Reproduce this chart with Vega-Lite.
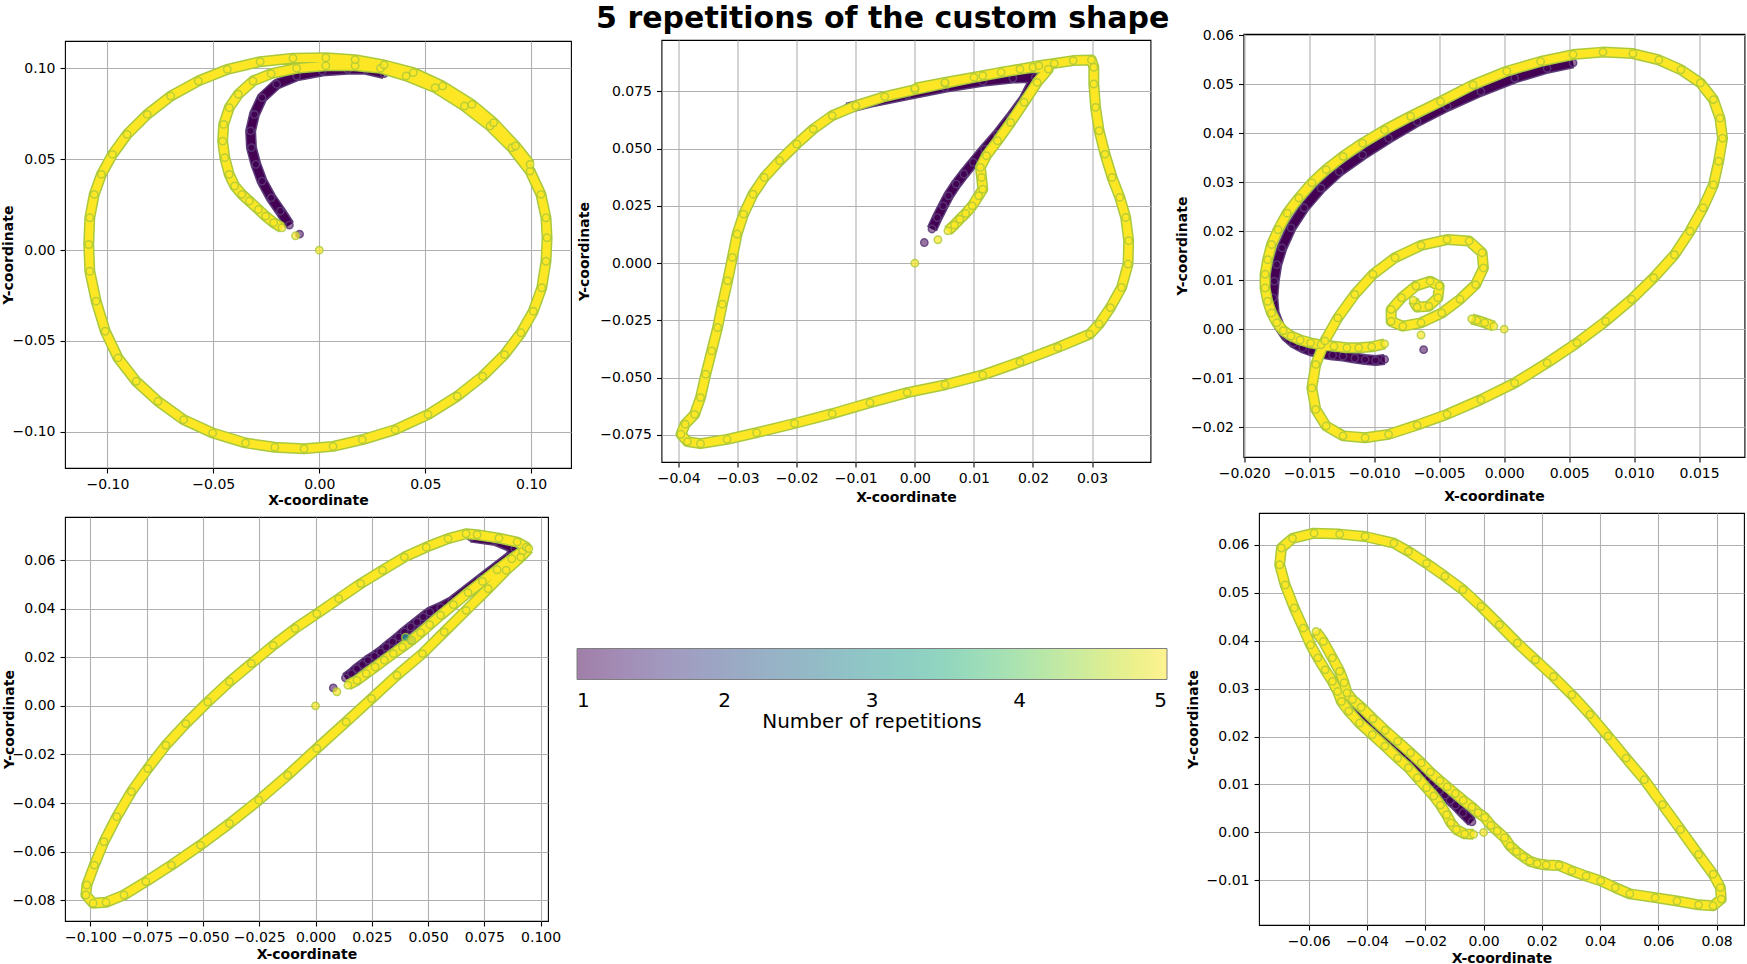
{
  "$schema": "https://vega.github.io/schema/vega-lite/v6.json",
  "background": "white",
  "padding": {"left": 0, "top": 3, "right": 0, "bottom": 0},
  "title": {"text": "5 repetitions of the custom shape", "fontSize": 30, "fontWeight": "bold", "anchor": "middle", "dx": 10, "offset": -6, "color": "black", "font": "DejaVu Sans"},
  "config": {
    "font": "DejaVu Sans",
    "view": {"stroke": "black", "strokeWidth": 1.1},
    "axis": {"grid": true, "gridColor": "#b0b0b0", "gridWidth": 1.1, "domain": false, "ticks": true, "tickColor": "black", "tickSize": 5, "tickWidth": 1.1, "labelFontSize": 14, "labelColor": "black", "titleFontSize": 14, "titleFontWeight": "bold", "titleColor": "black", "labelFlush": false, "labelOverlap": false, "zindex": 1},
    "axisX": {"labelPadding": 4},
    "axisY": {"labelPadding": 5, "titleBaseline": "bottom"},
    "legend": {"orient": "none", "legendX": 512, "legendY": 614.5, "direction": "horizontal", "gradientLength": 590, "gradientThickness": 31, "gradientStrokeColor": "black", "gradientStrokeWidth": 1, "gradientOpacity": 0.5, "gradientLabelOffset": 11, "labelFontSize": 20, "labelColor": "black", "labelOffset": 11, "labelAlign": "center", "labelLimit": 100, "titleOrient": "bottom", "titleFontSize": 20, "titleFontWeight": "normal", "titleColor": "black", "titleAnchor": "middle", "titlePadding": 1, "titleLimit": 500, "padding": 0}
  },
  "datasets": {
    "d1": [
      {"s":"o","r":5,"x":0,"y":0},
      {"s":"a0","r":1,"x":-0.0093,"y":0.0088},
      {"s":"a","r":1,"x":-0.0141,"y":0.0138},{"s":"a","r":1,"x":-0.0184,"y":0.0215},{"s":"a","r":1,"x":-0.0227,"y":0.0288},{"s":"a","r":1,"x":-0.0270,"y":0.0380},{"s":"a","r":1,"x":-0.0299,"y":0.0472},{"s":"a","r":1,"x":-0.0320,"y":0.0564},{"s":"a","r":1,"x":-0.0324,"y":0.0656},{"s":"a","r":1,"x":-0.0306,"y":0.0747},{"s":"a","r":1,"x":-0.0270,"y":0.0839},{"s":"a","r":1,"x":-0.0201,"y":0.0913},{"s":"a","r":1,"x":-0.0107,"y":0.0959},{"s":"a","r":1,"x":0.0014,"y":0.0986},{"s":"a","r":1,"x":0.0134,"y":0.0995},{"s":"a","r":1,"x":0.0220,"y":0.0995},{"s":"a","r":1,"x":0.0306,"y":0.0971},
      {"s":"b0","r":5,"x":-0.0112,"y":0.0079},
      {"s":"b","r":5,"x":-0.0176,"y":0.0123},{"s":"b","r":5,"x":-0.0215,"y":0.0151},{"s":"b","r":5,"x":-0.0253,"y":0.0187},{"s":"b","r":5,"x":-0.0287,"y":0.0224},{"s":"b","r":5,"x":-0.0330,"y":0.0270},{"s":"b","r":5,"x":-0.0365,"y":0.0307},{"s":"b","r":5,"x":-0.0399,"y":0.0353},{"s":"b","r":5,"x":-0.0425,"y":0.0417},{"s":"b","r":5,"x":-0.0446,"y":0.0509},{"s":"b","r":5,"x":-0.0456,"y":0.0600},{"s":"b","r":5,"x":-0.0451,"y":0.0692},{"s":"b","r":5,"x":-0.0425,"y":0.0784},{"s":"b","r":5,"x":-0.0382,"y":0.0858},{"s":"b","r":5,"x":-0.0313,"y":0.0931},{"s":"b","r":5,"x":-0.0227,"y":0.0971},{"s":"b","r":5,"x":-0.0107,"y":0.1001},{"s":"b","r":5,"x":0.0031,"y":0.1015},{"s":"b","r":5,"x":0.0169,"y":0.1015},{"s":"b","r":5,"x":0.0289,"y":0.1001},{"s":"b","r":5,"x":0.0410,"y":0.0959},{"s":"b","r":5,"x":0.0547,"y":0.0894},{"s":"b","r":5,"x":0.0685,"y":0.0793},{"s":"b","r":5,"x":0.0806,"y":0.0683},{"s":"b","r":5,"x":0.0909,"y":0.0564},{"s":"b","r":5,"x":0.0995,"y":0.0435},{"s":"b","r":5,"x":0.1046,"y":0.0307},{"s":"b","r":5,"x":0.1070,"y":0.0178},{"s":"b","r":5,"x":0.1075,"y":0.0068},{"s":"b","r":5,"x":0.1070,"y":-0.0061},{"s":"b","r":5,"x":0.1050,"y":-0.0207},{"s":"b","r":5,"x":0.1010,"y":-0.0336},{"s":"b","r":5,"x":0.0952,"y":-0.0455},{"s":"b","r":5,"x":0.0874,"y":-0.0575},{"s":"b","r":5,"x":0.0771,"y":-0.0694},{"s":"b","r":5,"x":0.0651,"y":-0.0804},{"s":"b","r":5,"x":0.0513,"y":-0.0905},{"s":"b","r":5,"x":0.0358,"y":-0.0988},{"s":"b","r":5,"x":0.0203,"y":-0.1043},{"s":"b","r":5,"x":0.0065,"y":-0.1080},{"s":"b","r":5,"x":-0.0072,"y":-0.1093},{"s":"b","r":5,"x":-0.0210,"y":-0.1085},{"s":"b","r":5,"x":-0.0348,"y":-0.1061},{"s":"b","r":5,"x":-0.0503,"y":-0.1006},{"s":"b","r":5,"x":-0.0640,"y":-0.0933},{"s":"b","r":5,"x":-0.0761,"y":-0.0832},{"s":"b","r":5,"x":-0.0864,"y":-0.0722},{"s":"b","r":5,"x":-0.0950,"y":-0.0593},{"s":"b","r":5,"x":-0.1010,"y":-0.0446},{"s":"b","r":5,"x":-0.1053,"y":-0.0281},{"s":"b","r":5,"x":-0.1083,"y":-0.0116},{"s":"b","r":5,"x":-0.1088,"y":0.0031},{"s":"b","r":5,"x":-0.1083,"y":0.0178},{"s":"b","r":5,"x":-0.1062,"y":0.0307},{"s":"b","r":5,"x":-0.1028,"y":0.0417},{"s":"b","r":5,"x":-0.0976,"y":0.0527},{"s":"b","r":5,"x":-0.0907,"y":0.0637},{"s":"b","r":5,"x":-0.0812,"y":0.0747},{"s":"b","r":5,"x":-0.0701,"y":0.0848},{"s":"b","r":5,"x":-0.0571,"y":0.0931},{"s":"b","r":5,"x":-0.0434,"y":0.0995},{"s":"b","r":5,"x":-0.0279,"y":0.1037},{"s":"b","r":5,"x":-0.0124,"y":0.1056},{"s":"b","r":5,"x":0.0031,"y":0.1059},{"s":"b","r":5,"x":0.0169,"y":0.1048},{"s":"b","r":5,"x":0.0306,"y":0.1019},{"s":"b","r":5,"x":0.0444,"y":0.0977},{"s":"b","r":5,"x":0.0582,"y":0.0903},{"s":"b","r":5,"x":0.0720,"y":0.0802},{"s":"b","r":5,"x":0.0823,"y":0.0701},{"s":"b","r":5,"x":0.0926,"y":0.0573},{"s":"b","r":5,"x":0.0995,"y":0.0472}
    ],
    "d2": [
      {"s":"o","r":5,"x":0,"y":0},
      {"s":"a0","r":1,"x":0.0016,"y":0.0090},
      {"s":"a","r":1,"x":0.0029,"y":0.0149},{"s":"a","r":1,"x":0.0038,"y":0.0199},{"s":"a","r":1,"x":0.0048,"y":0.0250},{"s":"a","r":1,"x":0.0057,"y":0.0294},{"s":"a","r":1,"x":0.0070,"y":0.0345},{"s":"a","r":1,"x":0.0083,"y":0.0389},{"s":"a","r":1,"x":0.0099,"y":0.0440},{"s":"a","r":1,"x":0.0118,"y":0.0498},{"s":"a","r":1,"x":0.0140,"y":0.0563},{"s":"a","r":1,"x":0.0162,"y":0.0636},{"s":"a","r":1,"x":0.0185,"y":0.0716},{"s":"a","r":1,"x":0.0204,"y":0.0811},{"s":"a","r":1,"x":0.0166,"y":0.0808},{"s":"a","r":1,"x":0.0115,"y":0.0794},{"s":"a","r":1,"x":0.0051,"y":0.0767},{"s":"a","r":1,"x":-0.0013,"y":0.0735},{"s":"a","r":1,"x":-0.0076,"y":0.0702},{"s":"a","r":1,"x":-0.0115,"y":0.0677},
      {"s":"b0","r":5,"x":0.0039,"y":0.0102},
      {"s":"b","r":5,"x":0.0056,"y":0.0141},{"s":"b","r":5,"x":0.0067,"y":0.0167},{"s":"b","r":5,"x":0.0076,"y":0.0192},{"s":"b","r":5,"x":0.0086,"y":0.0217},{"s":"b","r":5,"x":0.0097,"y":0.0250},{"s":"b","r":5,"x":0.0108,"y":0.0294},{"s":"b","r":5,"x":0.0115,"y":0.0323},{"s":"b","r":5,"x":0.0113,"y":0.0374},{"s":"b","r":5,"x":0.0111,"y":0.0418},{"s":"b","r":5,"x":0.0121,"y":0.0469},{"s":"b","r":5,"x":0.0140,"y":0.0534},{"s":"b","r":5,"x":0.0162,"y":0.0614},{"s":"b","r":5,"x":0.0185,"y":0.0702},{"s":"b","r":5,"x":0.0207,"y":0.0789},{"s":"b","r":5,"x":0.0226,"y":0.0847},{"s":"b","r":5,"x":0.0200,"y":0.0855},{"s":"b","r":5,"x":0.0146,"y":0.0833},{"s":"b","r":5,"x":0.0100,"y":0.0811},{"s":"b","r":5,"x":0.0051,"y":0.0785},{"s":"b","r":5,"x":0.0000,"y":0.0757},{"s":"b","r":5,"x":-0.0051,"y":0.0727},{"s":"b","r":5,"x":-0.0100,"y":0.0687},{"s":"b","r":5,"x":-0.0140,"y":0.0644},{"s":"b","r":5,"x":-0.0172,"y":0.0585},{"s":"b","r":5,"x":-0.0200,"y":0.0520},{"s":"b","r":5,"x":-0.0229,"y":0.0447},{"s":"b","r":5,"x":-0.0255,"y":0.0374},{"s":"b","r":5,"x":-0.0274,"y":0.0301},{"s":"b","r":5,"x":-0.0290,"y":0.0214},{"s":"b","r":5,"x":-0.0301,"y":0.0127},{"s":"b","r":5,"x":-0.0309,"y":0.0025},{"s":"b","r":5,"x":-0.0317,"y":-0.0077},{"s":"b","r":5,"x":-0.0326,"y":-0.0179},{"s":"b","r":5,"x":-0.0334,"y":-0.0281},{"s":"b","r":5,"x":-0.0344,"y":-0.0383},{"s":"b","r":5,"x":-0.0354,"y":-0.0485},{"s":"b","r":5,"x":-0.0363,"y":-0.0587},{"s":"b","r":5,"x":-0.0373,"y":-0.0660},{"s":"b","r":5,"x":-0.0389,"y":-0.0703},{"s":"b","r":5,"x":-0.0396,"y":-0.0747},{"s":"b","r":5,"x":-0.0385,"y":-0.0779},{"s":"b","r":5,"x":-0.0363,"y":-0.0788},{"s":"b","r":5,"x":-0.0318,"y":-0.0769},{"s":"b","r":5,"x":-0.0268,"y":-0.0740},{"s":"b","r":5,"x":-0.0204,"y":-0.0700},{"s":"b","r":5,"x":-0.0140,"y":-0.0657},{"s":"b","r":5,"x":-0.0076,"y":-0.0609},{"s":"b","r":5,"x":-0.0013,"y":-0.0565},{"s":"b","r":5,"x":0.0051,"y":-0.0531},{"s":"b","r":5,"x":0.0115,"y":-0.0488},{"s":"b","r":5,"x":0.0178,"y":-0.0431},{"s":"b","r":5,"x":0.0242,"y":-0.0368},{"s":"b","r":5,"x":0.0296,"y":-0.0310},{"s":"b","r":5,"x":0.0312,"y":-0.0266},{"s":"b","r":5,"x":0.0331,"y":-0.0194},{"s":"b","r":5,"x":0.0350,"y":-0.0106},{"s":"b","r":5,"x":0.0361,"y":-0.0004},{"s":"b","r":5,"x":0.0362,"y":0.0098},{"s":"b","r":5,"x":0.0357,"y":0.0199},{"s":"b","r":5,"x":0.0347,"y":0.0287},{"s":"b","r":5,"x":0.0334,"y":0.0374},{"s":"b","r":5,"x":0.0322,"y":0.0476},{"s":"b","r":5,"x":0.0312,"y":0.0578},{"s":"b","r":5,"x":0.0306,"y":0.0680},{"s":"b","r":5,"x":0.0303,"y":0.0782},{"s":"b","r":5,"x":0.0303,"y":0.0855},{"s":"b","r":5,"x":0.0299,"y":0.0887},{"s":"b","r":5,"x":0.0268,"y":0.0884},{"s":"b","r":5,"x":0.0236,"y":0.0872},{"s":"b","r":5,"x":0.0210,"y":0.0862},{"s":"b","r":5,"x":0.0178,"y":0.0847},{"s":"b","r":5,"x":0.0115,"y":0.0818},{"s":"b","r":5,"x":0.0051,"y":0.0789},{"s":"b","r":5,"x":0.0000,"y":0.0764}
    ],
    "d3": [
      {"s":"o","r":5,"x":0,"y":0},
      {"s":"a0","r":1,"x":-0.0062,"y":-0.0042},
      {"s":"a","r":1,"x":-0.0092,"y":-0.0062},{"s":"a","r":1,"x":-0.0099,"y":-0.0064},{"s":"a","r":1,"x":-0.0107,"y":-0.0062},{"s":"a","r":1,"x":-0.0115,"y":-0.0059},{"s":"a","r":1,"x":-0.0124,"y":-0.0055},{"s":"a","r":1,"x":-0.0132,"y":-0.0053},{"s":"a","r":1,"x":-0.0141,"y":-0.0049},{"s":"a","r":1,"x":-0.0148,"y":-0.0045},{"s":"a","r":1,"x":-0.0155,"y":-0.0038},{"s":"a","r":1,"x":-0.0162,"y":-0.0028},{"s":"a","r":1,"x":-0.0168,"y":-0.0014},{"s":"a","r":1,"x":-0.0173,"y":0.0006},{"s":"a","r":1,"x":-0.0177,"y":0.0033},{"s":"a","r":1,"x":-0.0178,"y":0.0064},{"s":"a","r":1,"x":-0.0177,"y":0.0098},{"s":"a","r":1,"x":-0.0175,"y":0.0132},{"s":"a","r":1,"x":-0.0171,"y":0.0166},{"s":"a","r":1,"x":-0.0164,"y":0.0207},{"s":"a","r":1,"x":-0.0154,"y":0.0248},{"s":"a","r":1,"x":-0.0141,"y":0.0288},{"s":"a","r":1,"x":-0.0127,"y":0.0322},{"s":"a","r":1,"x":-0.0109,"y":0.0356},{"s":"a","r":1,"x":-0.0089,"y":0.0390},{"s":"a","r":1,"x":-0.0067,"y":0.0424},{"s":"a","r":1,"x":-0.0044,"y":0.0455},{"s":"a","r":1,"x":-0.0018,"y":0.0486},{"s":"a","r":1,"x":0.0008,"y":0.0513},{"s":"a","r":1,"x":0.0033,"y":0.0533},{"s":"a","r":1,"x":0.0053,"y":0.0544},
      {"s":"b1","r":5,"x":-0.0008,"y":0.0006},{"s":"b1","r":5,"x":-0.0015,"y":0.0013},{"s":"b1","r":5,"x":-0.0021,"y":0.0018},{"s":"b1","r":5,"x":-0.0025,"y":0.0021},
      {"s":"b0","r":5,"x":-0.0064,"y":-0.0012},
      {"s":"b","r":5,"x":-0.0092,"y":-0.0030},{"s":"b","r":5,"x":-0.0102,"y":-0.0036},{"s":"b","r":5,"x":-0.0112,"y":-0.0038},{"s":"b","r":5,"x":-0.0121,"y":-0.0038},{"s":"b","r":5,"x":-0.0131,"y":-0.0035},{"s":"b","r":5,"x":-0.0141,"y":-0.0032},{"s":"b","r":5,"x":-0.0149,"y":-0.0028},{"s":"b","r":5,"x":-0.0157,"y":-0.0022},{"s":"b","r":5,"x":-0.0164,"y":-0.0014},{"s":"b","r":5,"x":-0.0170,"y":-0.0003},{"s":"b","r":5,"x":-0.0175,"y":0.0013},{"s":"b","r":5,"x":-0.0179,"y":0.0033},{"s":"b","r":5,"x":-0.0182,"y":0.0057},{"s":"b","r":5,"x":-0.0184,"y":0.0084},{"s":"b","r":5,"x":-0.0184,"y":0.0112},{"s":"b","r":5,"x":-0.0182,"y":0.0142},{"s":"b","r":5,"x":-0.0179,"y":0.0173},{"s":"b","r":5,"x":-0.0174,"y":0.0203},{"s":"b","r":5,"x":-0.0167,"y":0.0237},{"s":"b","r":5,"x":-0.0158,"y":0.0268},{"s":"b","r":5,"x":-0.0148,"y":0.0299},{"s":"b","r":5,"x":-0.0137,"y":0.0326},{"s":"b","r":5,"x":-0.0124,"y":0.0353},{"s":"b","r":5,"x":-0.0109,"y":0.0380},{"s":"b","r":5,"x":-0.0092,"y":0.0407},{"s":"b","r":5,"x":-0.0072,"y":0.0435},{"s":"b","r":5,"x":-0.0049,"y":0.0465},{"s":"b","r":5,"x":-0.0024,"y":0.0499},{"s":"b","r":5,"x":0.0002,"y":0.0527},{"s":"b","r":5,"x":0.0028,"y":0.0547},{"s":"b","r":5,"x":0.0053,"y":0.0561},{"s":"b","r":5,"x":0.0076,"y":0.0566},{"s":"b","r":5,"x":0.0099,"y":0.0563},{"s":"b","r":5,"x":0.0119,"y":0.0550},{"s":"b","r":5,"x":0.0136,"y":0.0530},{"s":"b","r":5,"x":0.0151,"y":0.0503},{"s":"b","r":5,"x":0.0161,"y":0.0469},{"s":"b","r":5,"x":0.0166,"y":0.0431},{"s":"b","r":5,"x":0.0168,"y":0.0390},{"s":"b","r":5,"x":0.0165,"y":0.0343},{"s":"b","r":5,"x":0.0161,"y":0.0295},{"s":"b","r":5,"x":0.0153,"y":0.0248},{"s":"b","r":5,"x":0.0143,"y":0.0200},{"s":"b","r":5,"x":0.0131,"y":0.0152},{"s":"b","r":5,"x":0.0115,"y":0.0105},{"s":"b","r":5,"x":0.0098,"y":0.0061},{"s":"b","r":5,"x":0.0078,"y":0.0016},{"s":"b","r":5,"x":0.0056,"y":-0.0028},{"s":"b","r":5,"x":0.0033,"y":-0.0069},{"s":"b","r":5,"x":0.0008,"y":-0.0110},{"s":"b","r":5,"x":-0.0018,"y":-0.0144},{"s":"b","r":5,"x":-0.0044,"y":-0.0174},{"s":"b","r":5,"x":-0.0067,"y":-0.0196},{"s":"b","r":5,"x":-0.0089,"y":-0.0215},{"s":"b","r":5,"x":-0.0107,"y":-0.0222},{"s":"b","r":5,"x":-0.0124,"y":-0.0218},{"s":"b","r":5,"x":-0.0137,"y":-0.0198},{"s":"b","r":5,"x":-0.0145,"y":-0.0164},{"s":"b","r":5,"x":-0.0148,"y":-0.0120},{"s":"b","r":5,"x":-0.0145,"y":-0.0072},{"s":"b","r":5,"x":-0.0138,"y":-0.0024},{"s":"b","r":5,"x":-0.0128,"y":0.0023},{"s":"b","r":5,"x":-0.0115,"y":0.0071},{"s":"b","r":5,"x":-0.0101,"y":0.0112},{"s":"b","r":5,"x":-0.0084,"y":0.0146},{"s":"b","r":5,"x":-0.0064,"y":0.0171},{"s":"b","r":5,"x":-0.0044,"y":0.0183},{"s":"b","r":5,"x":-0.0027,"y":0.0180},{"s":"b","r":5,"x":-0.0017,"y":0.0156},{"s":"b","r":5,"x":-0.0016,"y":0.0125},{"s":"b","r":5,"x":-0.0022,"y":0.0091},{"s":"b","r":5,"x":-0.0034,"y":0.0061},{"s":"b","r":5,"x":-0.0048,"y":0.0033},{"s":"b","r":5,"x":-0.0064,"y":0.0013},{"s":"b","r":5,"x":-0.0078,"y":0.0006},{"s":"b","r":5,"x":-0.0087,"y":0.0016},{"s":"b","r":5,"x":-0.0087,"y":0.0040},{"s":"b","r":5,"x":-0.0079,"y":0.0064},{"s":"b","r":5,"x":-0.0068,"y":0.0088},{"s":"b","r":5,"x":-0.0057,"y":0.0098},{"s":"b","r":5,"x":-0.0050,"y":0.0088},{"s":"b","r":5,"x":-0.0051,"y":0.0064},{"s":"b","r":5,"x":-0.0058,"y":0.0047},{"s":"b","r":5,"x":-0.0067,"y":0.0045},{"s":"b","r":5,"x":-0.0070,"y":0.0059}
    ],
    "d4": [
      {"s":"o","r":5,"x":0,"y":0},
      {"s":"a0","r":1,"x":0.0079,"y":0.0074},
      {"s":"a","r":1,"x":0.0133,"y":0.0115},{"s":"a","r":1,"x":0.0160,"y":0.0133},{"s":"a","r":1,"x":0.0184,"y":0.0153},{"s":"a","r":1,"x":0.0209,"y":0.0170},{"s":"a","r":1,"x":0.0233,"y":0.0188},{"s":"a","r":1,"x":0.0262,"y":0.0205},{"s":"a","r":1,"x":0.0289,"y":0.0222},{"s":"a","r":1,"x":0.0314,"y":0.0242},{"s":"a","r":1,"x":0.0343,"y":0.0263},{"s":"a","r":1,"x":0.0370,"y":0.0284},{"s":"a","r":1,"x":0.0395,"y":0.0304},{"s":"a","r":1,"x":0.0424,"y":0.0325},{"s":"a","r":1,"x":0.0451,"y":0.0345},{"s":"a","r":1,"x":0.0479,"y":0.0366},{"s":"a","r":1,"x":0.0508,"y":0.0386},{"s":"a","r":1,"x":0.0556,"y":0.0405},{"s":"a","r":1,"x":0.0605,"y":0.0429},{"s":"a","r":1,"x":0.0734,"y":0.0521},{"s":"a","r":1,"x":0.0864,"y":0.0614},{"s":"a","r":1,"x":0.0885,"y":0.0648},{"s":"a","r":1,"x":0.0800,"y":0.0680},{"s":"a","r":1,"x":0.0690,"y":0.0694},
      {"s":"t1","r":3,"x":0.0400,"y":0.0282},
      {"s":"t2","r":3,"x":0.0425,"y":0.0268},
      {"s":"b0","r":5,"x":0.0095,"y":0.0058},
      {"s":"b","r":5,"x":0.0144,"y":0.0085},{"s":"b","r":5,"x":0.0184,"y":0.0105},{"s":"b","r":5,"x":0.0225,"y":0.0133},{"s":"b","r":5,"x":0.0265,"y":0.0160},{"s":"b","r":5,"x":0.0306,"y":0.0188},{"s":"b","r":5,"x":0.0346,"y":0.0215},{"s":"b","r":5,"x":0.0386,"y":0.0242},{"s":"b","r":5,"x":0.0427,"y":0.0270},{"s":"b","r":5,"x":0.0467,"y":0.0301},{"s":"b","r":5,"x":0.0508,"y":0.0334},{"s":"b","r":5,"x":0.0556,"y":0.0373},{"s":"b","r":5,"x":0.0613,"y":0.0416},{"s":"b","r":5,"x":0.0678,"y":0.0466},{"s":"b","r":5,"x":0.0742,"y":0.0512},{"s":"b","r":5,"x":0.0807,"y":0.0560},{"s":"b","r":5,"x":0.0872,"y":0.0605},{"s":"b","r":5,"x":0.0920,"y":0.0636},{"s":"b","r":5,"x":0.0936,"y":0.0653},{"s":"b","r":5,"x":0.0896,"y":0.0674},{"s":"b","r":5,"x":0.0815,"y":0.0690},{"s":"b","r":5,"x":0.0718,"y":0.0704},{"s":"b","r":5,"x":0.0669,"y":0.0708},{"s":"b","r":5,"x":0.0589,"y":0.0688},{"s":"b","r":5,"x":0.0492,"y":0.0653},{"s":"b","r":5,"x":0.0395,"y":0.0612},{"s":"b","r":5,"x":0.0298,"y":0.0558},{"s":"b","r":5,"x":0.0201,"y":0.0503},{"s":"b","r":5,"x":0.0103,"y":0.0441},{"s":"b","r":5,"x":0.0006,"y":0.0379},{"s":"b","r":5,"x":-0.0091,"y":0.0318},{"s":"b","r":5,"x":-0.0188,"y":0.0249},{"s":"b","r":5,"x":-0.0285,"y":0.0174},{"s":"b","r":5,"x":-0.0382,"y":0.0099},{"s":"b","r":5,"x":-0.0479,"y":0.0016},{"s":"b","r":5,"x":-0.0576,"y":-0.0073},{"s":"b","r":5,"x":-0.0665,"y":-0.0162},{"s":"b","r":5,"x":-0.0745,"y":-0.0258},{"s":"b","r":5,"x":-0.0818,"y":-0.0353},{"s":"b","r":5,"x":-0.0883,"y":-0.0456},{"s":"b","r":5,"x":-0.0940,"y":-0.0559},{"s":"b","r":5,"x":-0.0983,"y":-0.0655},{"s":"b","r":5,"x":-0.1016,"y":-0.0737},{"s":"b","r":5,"x":-0.1020,"y":-0.0778},{"s":"b","r":5,"x":-0.0988,"y":-0.0812},{"s":"b","r":5,"x":-0.0931,"y":-0.0808},{"s":"b","r":5,"x":-0.0851,"y":-0.0778},{"s":"b","r":5,"x":-0.0754,"y":-0.0723},{"s":"b","r":5,"x":-0.0640,"y":-0.0655},{"s":"b","r":5,"x":-0.0511,"y":-0.0573},{"s":"b","r":5,"x":-0.0382,"y":-0.0484},{"s":"b","r":5,"x":-0.0252,"y":-0.0388},{"s":"b","r":5,"x":-0.0123,"y":-0.0285},{"s":"b","r":5,"x":0.0006,"y":-0.0175},{"s":"b","r":5,"x":0.0136,"y":-0.0066},{"s":"b","r":5,"x":0.0249,"y":0.0030},{"s":"b","r":5,"x":0.0362,"y":0.0126},{"s":"b","r":5,"x":0.0475,"y":0.0215},{"s":"b","r":5,"x":0.0572,"y":0.0304},{"s":"b","r":5,"x":0.0669,"y":0.0393},{"s":"b","r":5,"x":0.0767,"y":0.0482},{"s":"b","r":5,"x":0.0847,"y":0.0558},{"s":"b","r":5,"x":0.0912,"y":0.0612},{"s":"b","r":5,"x":0.0948,"y":0.0647}
    ],
    "d5": [
      {"s":"o","r":5,"x":0,"y":0},
      {"s":"a","r":1,"x":-0.0040,"y":0.0022},{"s":"a","r":1,"x":-0.0071,"y":0.0041},{"s":"a","r":1,"x":-0.0096,"y":0.0057},{"s":"a","r":1,"x":-0.0115,"y":0.0067},{"s":"a","r":1,"x":-0.0133,"y":0.0078},{"s":"a","r":1,"x":-0.0152,"y":0.0087},{"s":"a","r":1,"x":-0.0177,"y":0.0103},{"s":"a","r":1,"x":-0.0208,"y":0.0121},{"s":"a","r":1,"x":-0.0258,"y":0.0152},{"s":"a","r":1,"x":-0.0308,"y":0.0183},{"s":"a","r":1,"x":-0.0370,"y":0.0221},{"s":"a","r":1,"x":-0.0432,"y":0.0260},{"s":"a","r":1,"x":-0.0488,"y":0.0294},
      {"s":"b","r":5,"x":-0.0034,"y":-0.0004},{"s":"b","r":5,"x":-0.0065,"y":-0.0003},{"s":"b","r":5,"x":-0.0093,"y":0.0006},{"s":"b","r":5,"x":-0.0112,"y":0.0020},{"s":"b","r":5,"x":-0.0127,"y":0.0037},{"s":"b","r":5,"x":-0.0148,"y":0.0057},{"s":"b","r":5,"x":-0.0171,"y":0.0076},{"s":"b","r":5,"x":-0.0196,"y":0.0093},{"s":"b","r":5,"x":-0.0227,"y":0.0114},{"s":"b","r":5,"x":-0.0258,"y":0.0135},{"s":"b","r":5,"x":-0.0295,"y":0.0155},{"s":"b","r":5,"x":-0.0339,"y":0.0180},{"s":"b","r":5,"x":-0.0382,"y":0.0204},{"s":"b","r":5,"x":-0.0426,"y":0.0228},{"s":"b","r":5,"x":-0.0463,"y":0.0253},{"s":"b","r":5,"x":-0.0488,"y":0.0273},{"s":"b","r":5,"x":-0.0501,"y":0.0294},{"s":"b","r":5,"x":-0.0519,"y":0.0315},{"s":"b","r":5,"x":-0.0544,"y":0.0339},{"s":"b","r":5,"x":-0.0569,"y":0.0364},{"s":"b","r":5,"x":-0.0594,"y":0.0391},{"s":"b","r":5,"x":-0.0619,"y":0.0426},{"s":"b","r":5,"x":-0.0650,"y":0.0468},{"s":"b","r":5,"x":-0.0681,"y":0.0516},{"s":"b","r":5,"x":-0.0700,"y":0.0558},{"s":"b","r":5,"x":-0.0694,"y":0.0593},{"s":"b","r":5,"x":-0.0656,"y":0.0613},{"s":"b","r":5,"x":-0.0582,"y":0.0624},{"s":"b","r":5,"x":-0.0494,"y":0.0622},{"s":"b","r":5,"x":-0.0407,"y":0.0617},{"s":"b","r":5,"x":-0.0308,"y":0.0603},{"s":"b","r":5,"x":-0.0258,"y":0.0586},{"s":"b","r":5,"x":-0.0196,"y":0.0561},{"s":"b","r":5,"x":-0.0133,"y":0.0534},{"s":"b","r":5,"x":-0.0071,"y":0.0506},{"s":"b","r":5,"x":-0.0009,"y":0.0471},{"s":"b","r":5,"x":0.0054,"y":0.0433},{"s":"b","r":5,"x":0.0116,"y":0.0395},{"s":"b","r":5,"x":0.0178,"y":0.0360},{"s":"b","r":5,"x":0.0240,"y":0.0325},{"s":"b","r":5,"x":0.0303,"y":0.0287},{"s":"b","r":5,"x":0.0365,"y":0.0246},{"s":"b","r":5,"x":0.0427,"y":0.0201},{"s":"b","r":5,"x":0.0489,"y":0.0155},{"s":"b","r":5,"x":0.0552,"y":0.0110},{"s":"b","r":5,"x":0.0614,"y":0.0058},{"s":"b","r":5,"x":0.0676,"y":0.0006},{"s":"b","r":5,"x":0.0738,"y":-0.0046},{"s":"b","r":5,"x":0.0788,"y":-0.0087},{"s":"b","r":5,"x":0.0813,"y":-0.0115},{"s":"b","r":5,"x":0.0816,"y":-0.0139},{"s":"b","r":5,"x":0.0788,"y":-0.0153},{"s":"b","r":5,"x":0.0738,"y":-0.0151},{"s":"b","r":5,"x":0.0664,"y":-0.0143},{"s":"b","r":5,"x":0.0589,"y":-0.0136},{"s":"b","r":5,"x":0.0502,"y":-0.0128},{"s":"b","r":5,"x":0.0452,"y":-0.0115},{"s":"b","r":5,"x":0.0402,"y":-0.0101},{"s":"b","r":5,"x":0.0352,"y":-0.0091},{"s":"b","r":5,"x":0.0303,"y":-0.0080},{"s":"b","r":5,"x":0.0259,"y":-0.0069},{"s":"b","r":5,"x":0.0215,"y":-0.0068},{"s":"b","r":5,"x":0.0184,"y":-0.0065},{"s":"b","r":5,"x":0.0159,"y":-0.0060},{"s":"b","r":5,"x":0.0137,"y":-0.0051},{"s":"b","r":5,"x":0.0113,"y":-0.0040},{"s":"b","r":5,"x":0.0091,"y":-0.0028},{"s":"b","r":5,"x":0.0072,"y":-0.0011},{"s":"b","r":5,"x":0.0047,"y":0.0003},{"s":"b","r":5,"x":0.0025,"y":0.0015},{"s":"b","r":5,"x":0.0004,"y":0.0031},{"s":"b","r":5,"x":-0.0019,"y":0.0041},{"s":"b","r":5,"x":-0.0040,"y":0.0053},{"s":"b","r":5,"x":-0.0070,"y":0.0067},{"s":"b","r":5,"x":-0.0097,"y":0.0081},{"s":"b","r":5,"x":-0.0125,"y":0.0095},{"s":"b","r":5,"x":-0.0150,"y":0.0108},{"s":"b","r":5,"x":-0.0183,"y":0.0126},{"s":"b","r":5,"x":-0.0214,"y":0.0145},{"s":"b","r":5,"x":-0.0251,"y":0.0166},{"s":"b","r":5,"x":-0.0295,"y":0.0190},{"s":"b","r":5,"x":-0.0338,"y":0.0213},{"s":"b","r":5,"x":-0.0380,"y":0.0237},{"s":"b","r":5,"x":-0.0420,"y":0.0261},{"s":"b","r":5,"x":-0.0450,"y":0.0277},{"s":"b","r":5,"x":-0.0469,"y":0.0291},{"s":"b","r":5,"x":-0.0479,"y":0.0312},{"s":"b","r":5,"x":-0.0494,"y":0.0336},{"s":"b","r":5,"x":-0.0519,"y":0.0364},{"s":"b","r":5,"x":-0.0550,"y":0.0398},{"s":"b","r":5,"x":-0.0575,"y":0.0419}
    ]
  },
  "vconcat": [
    {
      "hconcat": [
        {
          "vconcat": [
            {"data": {"values": []}, "mark": "point", "width": 1, "height": 5.8, "view": {"stroke": null}},
            {
              "width": 506, "height": 427,
              "data": {"name": "d1"},
              "encoding": {
                "x": {"field": "x", "type": "quantitative", "scale": {"domain": [-0.12, 0.1188], "nice": false, "zero": false}, "axis": {"values": [-0.1, -0.05, 0, 0.05, 0.1], "format": ".2f", "title": "X-coordinate", "titleY": 25}},
                "y": {"field": "y", "type": "quantitative", "scale": {"domain": [-0.1199, 0.1151], "nice": false, "zero": false}, "axis": {"values": [-0.1, -0.05, 0, 0.05, 0.1], "format": ".2f", "title": "Y-coordinate", "titleX": -50}}
              },
              "layer": [
                {"transform": [{"filter": "datum.r == 1"}], "layer": [
                  {"mark": {"type": "line", "stroke": "#5d3d7a", "strokeWidth": 11, "strokeJoin": "round", "strokeCap": "butt"}, "encoding": {"detail": {"field": "s"}, "order": {"value": null}}},
                  {"mark": {"type": "line", "stroke": "#440154", "strokeWidth": 8, "strokeJoin": "round", "strokeCap": "butt"}, "encoding": {"detail": {"field": "s"}, "order": {"value": null}}},
                  {"mark": {"type": "point", "filled": true, "size": 55, "stroke": "#5d3d7a", "strokeWidth": 1.4, "opacity": 1, "fillOpacity": 0.55, "strokeOpacity": 0.85}, "encoding": {"color": {"field": "r", "type": "quantitative", "scale": {"scheme": "viridis", "domain": [1, 5]}, "legend": {"title": "Number of repetitions", "values": [1, 2, 3, 4, 5], "format": "d", "labelOffset": 11, "labelAlign": "center", "labelFontSize": 20}}}}
                ]},
                {"transform": [{"filter": "datum.r != 1"}], "layer": [
                  {"mark": {"type": "line", "stroke": "#a9c93b", "strokeWidth": 11, "strokeJoin": "round", "strokeCap": "butt"}, "encoding": {"detail": {"field": "s"}, "order": {"value": null}}},
                  {"mark": {"type": "line", "stroke": "#fde725", "strokeWidth": 8, "strokeJoin": "round", "strokeCap": "butt"}, "encoding": {"detail": {"field": "s"}, "order": {"value": null}}},
                  {"mark": {"type": "point", "filled": true, "size": 55, "stroke": "#a9c93b", "strokeWidth": 1.5, "opacity": 1, "fillOpacity": 0.7, "strokeOpacity": 0.8}, "encoding": {"color": {"field": "r", "type": "quantitative", "scale": {"scheme": "viridis", "domain": [1, 5]}, "legend": {"title": "Number of repetitions", "values": [1, 2, 3, 4, 5], "format": "d", "labelOffset": 11, "labelAlign": "center", "labelFontSize": 20}}}}
                ]}
              ]
            }
          ],
          "spacing": 0
        },
        {
          "hconcat": [
            {
              "vconcat": [
                {"data": {"values": []}, "mark": "point", "width": 1, "height": 4.8, "view": {"stroke": null}},
                {
                  "width": 489, "height": 422,
                  "data": {"name": "d2"},
                  "encoding": {
                    "x": {"field": "x", "type": "quantitative", "scale": {"domain": [-0.0429, 0.0399], "nice": false, "zero": false}, "axis": {"values": [-0.04, -0.03, -0.02, -0.01, 0, 0.01, 0.02, 0.03], "format": ".2f", "title": "X-coordinate", "titleY": 28.7}},
                    "y": {"field": "y", "type": "quantitative", "scale": {"domain": [-0.0868, 0.0974], "nice": false, "zero": false}, "axis": {"values": [-0.075, -0.05, -0.025, 0, 0.025, 0.05, 0.075], "format": ".3f", "title": "Y-coordinate", "titleX": -70.2}}
                  },
                  "layer": [
                    {"transform": [{"filter": "datum.r == 1"}], "layer": [
                      {"mark": {"type": "line", "stroke": "#5d3d7a", "strokeWidth": 11, "strokeJoin": "round", "strokeCap": "butt"}, "encoding": {"detail": {"field": "s"}, "order": {"value": null}}},
                      {"mark": {"type": "line", "stroke": "#440154", "strokeWidth": 8, "strokeJoin": "round", "strokeCap": "butt"}, "encoding": {"detail": {"field": "s"}, "order": {"value": null}}},
                      {"mark": {"type": "point", "filled": true, "size": 55, "stroke": "#5d3d7a", "strokeWidth": 1.4, "opacity": 1, "fillOpacity": 0.55, "strokeOpacity": 0.85}, "encoding": {"color": {"field": "r", "type": "quantitative", "scale": {"scheme": "viridis", "domain": [1, 5]}, "legend": {"title": "Number of repetitions", "values": [1, 2, 3, 4, 5], "format": "d", "labelOffset": 11, "labelAlign": "center", "labelFontSize": 20}}}}
                    ]},
                    {"transform": [{"filter": "datum.r != 1"}], "layer": [
                      {"mark": {"type": "line", "stroke": "#a9c93b", "strokeWidth": 11, "strokeJoin": "round", "strokeCap": "butt"}, "encoding": {"detail": {"field": "s"}, "order": {"value": null}}},
                      {"mark": {"type": "line", "stroke": "#fde725", "strokeWidth": 8, "strokeJoin": "round", "strokeCap": "butt"}, "encoding": {"detail": {"field": "s"}, "order": {"value": null}}},
                      {"mark": {"type": "point", "filled": true, "size": 55, "stroke": "#a9c93b", "strokeWidth": 1.5, "opacity": 1, "fillOpacity": 0.7, "strokeOpacity": 0.8}, "encoding": {"color": {"field": "r", "type": "quantitative", "scale": {"scheme": "viridis", "domain": [1, 5]}, "legend": {"title": "Number of repetitions", "values": [1, 2, 3, 4, 5], "format": "d", "labelOffset": 11, "labelAlign": "center", "labelFontSize": 20}}}}
                    ]}
                  ]
                }
              ],
              "spacing": 0
            },
            {
              "width": 501, "height": 423,
              "data": {"name": "d3"},
              "encoding": {
                "x": {"field": "x", "type": "quantitative", "scale": {"domain": [-0.02006, 0.01849], "nice": false, "zero": false}, "axis": {"values": [-0.02, -0.015, -0.01, -0.005, 0, 0.005, 0.01, 0.015], "format": ".3f", "title": "X-coordinate", "titleY": 32}},
                "y": {"field": "y", "type": "quantitative", "scale": {"domain": [-0.02612, 0.0603], "nice": false, "zero": false}, "axis": {"values": [-0.02, -0.01, 0, 0.01, 0.02, 0.03, 0.04, 0.05, 0.06], "format": ".2f", "title": "Y-coordinate", "titleX": -53.6}}
              },
              "layer": [
                {"transform": [{"filter": "datum.r == 1"}], "layer": [
                  {"mark": {"type": "line", "stroke": "#5d3d7a", "strokeWidth": 11, "strokeJoin": "round", "strokeCap": "butt"}, "encoding": {"detail": {"field": "s"}, "order": {"value": null}}},
                  {"mark": {"type": "line", "stroke": "#440154", "strokeWidth": 8, "strokeJoin": "round", "strokeCap": "butt"}, "encoding": {"detail": {"field": "s"}, "order": {"value": null}}},
                  {"mark": {"type": "point", "filled": true, "size": 55, "stroke": "#5d3d7a", "strokeWidth": 1.4, "opacity": 1, "fillOpacity": 0.55, "strokeOpacity": 0.85}, "encoding": {"color": {"field": "r", "type": "quantitative", "scale": {"scheme": "viridis", "domain": [1, 5]}, "legend": {"title": "Number of repetitions", "values": [1, 2, 3, 4, 5], "format": "d", "labelOffset": 11, "labelAlign": "center", "labelFontSize": 20}}}}
                ]},
                {"transform": [{"filter": "datum.r != 1"}], "layer": [
                  {"mark": {"type": "line", "stroke": "#a9c93b", "strokeWidth": 11, "strokeJoin": "round", "strokeCap": "butt"}, "encoding": {"detail": {"field": "s"}, "order": {"value": null}}},
                  {"mark": {"type": "line", "stroke": "#fde725", "strokeWidth": 8, "strokeJoin": "round", "strokeCap": "butt"}, "encoding": {"detail": {"field": "s"}, "order": {"value": null}}},
                  {"mark": {"type": "point", "filled": true, "size": 55, "stroke": "#a9c93b", "strokeWidth": 1.5, "opacity": 1, "fillOpacity": 0.7, "strokeOpacity": 0.8}, "encoding": {"color": {"field": "r", "type": "quantitative", "scale": {"scheme": "viridis", "domain": [1, 5]}, "legend": {"title": "Number of repetitions", "values": [1, 2, 3, 4, 5], "format": "d", "labelOffset": 11, "labelAlign": "center", "labelFontSize": 20}}}}
                ]}
              ]
            }
          ],
          "spacing": 23
        }
      ],
      "spacing": 4.5
    },
    {
      "hconcat": [
        {
          "vconcat": [
            {"data": {"values": []}, "mark": "point", "width": 1, "height": 3, "view": {"stroke": null}},
            {
              "width": 483, "height": 404,
              "data": {"name": "d4"},
              "encoding": {
                "x": {"field": "x", "type": "quantitative", "scale": {"domain": [-0.1113, 0.1033], "nice": false, "zero": false}, "axis": {"values": [-0.1, -0.075, -0.05, -0.025, 0, 0.025, 0.05, 0.075, 0.1], "format": ".3f", "title": "X-coordinate", "titleY": 26}},
                "y": {"field": "y", "type": "quantitative", "scale": {"domain": [-0.0885, 0.0777], "nice": false, "zero": false}, "axis": {"values": [-0.08, -0.06, -0.04, -0.02, 0, 0.02, 0.04, 0.06], "format": ".2f", "title": "Y-coordinate", "titleX": -48.3}}
              },
              "layer": [
                {"transform": [{"filter": "datum.r == 1"}], "layer": [
                  {"mark": {"type": "line", "stroke": "#5d3d7a", "strokeWidth": 11, "strokeJoin": "round", "strokeCap": "butt"}, "encoding": {"detail": {"field": "s"}, "order": {"value": null}}},
                  {"mark": {"type": "line", "stroke": "#440154", "strokeWidth": 8, "strokeJoin": "round", "strokeCap": "butt"}, "encoding": {"detail": {"field": "s"}, "order": {"value": null}}},
                  {"mark": {"type": "point", "filled": true, "size": 55, "stroke": "#5d3d7a", "strokeWidth": 1.4, "opacity": 1, "fillOpacity": 0.55, "strokeOpacity": 0.85}, "encoding": {"color": {"field": "r", "type": "quantitative", "scale": {"scheme": "viridis", "domain": [1, 5]}, "legend": {"title": "Number of repetitions", "values": [1, 2, 3, 4, 5], "format": "d", "labelOffset": 11, "labelAlign": "center", "labelFontSize": 20}}}}
                ]},
                {"transform": [{"filter": "datum.r != 1"}], "layer": [
                  {"mark": {"type": "line", "stroke": "#a9c93b", "strokeWidth": 11, "strokeJoin": "round", "strokeCap": "butt"}, "encoding": {"detail": {"field": "s"}, "order": {"value": null}}},
                  {"mark": {"type": "line", "stroke": "#fde725", "strokeWidth": 8, "strokeJoin": "round", "strokeCap": "butt"}, "encoding": {"detail": {"field": "s"}, "order": {"value": null}}},
                  {"mark": {"type": "point", "filled": true, "size": 55, "stroke": "#a9c93b", "strokeWidth": 1.5, "opacity": 1, "fillOpacity": 0.7, "strokeOpacity": 0.8}, "encoding": {"color": {"field": "r", "type": "quantitative", "scale": {"scheme": "viridis", "domain": [1, 5]}, "legend": {"title": "Number of repetitions", "values": [1, 2, 3, 4, 5], "format": "d", "labelOffset": 11, "labelAlign": "center", "labelFontSize": 20}}}}
                ]}
              ]
            }
          ],
          "spacing": 0
        },
        {
          "width": 485, "height": 412,
          "data": {"name": "d5"},
          "encoding": {
            "x": {"field": "x", "type": "quantitative", "scale": {"domain": [-0.0771, 0.0894], "nice": false, "zero": false}, "axis": {"values": [-0.06, -0.04, -0.02, 0, 0.02, 0.04, 0.06, 0.08], "format": ".2f", "title": "X-coordinate", "titleY": 26}},
            "y": {"field": "y", "type": "quantitative", "scale": {"domain": [-0.0193, 0.0666], "nice": false, "zero": false}, "axis": {"values": [-0.01, 0, 0.01, 0.02, 0.03, 0.04, 0.05, 0.06], "format": ".2f", "title": "Y-coordinate", "titleX": -58.2}}
          },
          "layer": [
            {"transform": [{"filter": "datum.r == 1"}], "layer": [
              {"mark": {"type": "line", "stroke": "#5d3d7a", "strokeWidth": 11, "strokeJoin": "round", "strokeCap": "butt"}, "encoding": {"detail": {"field": "s"}, "order": {"value": null}}},
              {"mark": {"type": "line", "stroke": "#440154", "strokeWidth": 8, "strokeJoin": "round", "strokeCap": "butt"}, "encoding": {"detail": {"field": "s"}, "order": {"value": null}}},
              {"mark": {"type": "point", "filled": true, "size": 55, "stroke": "#5d3d7a", "strokeWidth": 1.4, "opacity": 1, "fillOpacity": 0.55, "strokeOpacity": 0.85}, "encoding": {"color": {"field": "r", "type": "quantitative", "scale": {"scheme": "viridis", "domain": [1, 5]}, "legend": {"title": "Number of repetitions", "values": [1, 2, 3, 4, 5], "format": "d", "labelOffset": 11, "labelAlign": "center", "labelFontSize": 20}}}}
            ]},
            {"transform": [{"filter": "datum.r != 1"}], "layer": [
              {"mark": {"type": "line", "stroke": "#a9c93b", "strokeWidth": 11, "strokeJoin": "round", "strokeCap": "butt"}, "encoding": {"detail": {"field": "s"}, "order": {"value": null}}},
              {"mark": {"type": "line", "stroke": "#fde725", "strokeWidth": 8, "strokeJoin": "round", "strokeCap": "butt"}, "encoding": {"detail": {"field": "s"}, "order": {"value": null}}},
              {"mark": {"type": "point", "filled": true, "size": 55, "stroke": "#a9c93b", "strokeWidth": 1.5, "opacity": 1, "fillOpacity": 0.7, "strokeOpacity": 0.8}, "encoding": {"color": {"field": "r", "type": "quantitative", "scale": {"scheme": "viridis", "domain": [1, 5]}, "legend": {"title": "Number of repetitions", "values": [1, 2, 3, 4, 5], "format": "d", "labelOffset": 11, "labelAlign": "center", "labelFontSize": 20}}}}
            ]}
          ]
        }
      ],
      "spacing": 624
    }
  ],
  "spacing": 4
}
